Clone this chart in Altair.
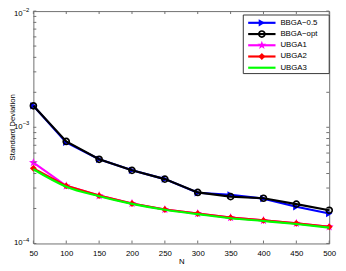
import math
import altair as alt
import pandas as pd

# ---------------- data ----------------
N = [50, 100, 150, 200, 250, 300, 350, 400, 450, 500]
bbga_05 = [1.53e-3, 7.40e-4, 5.30e-4, 4.26e-4, 3.58e-4, 2.73e-4, 2.62e-4, 2.43e-4, 2.07e-4, 1.81e-4]
bbga_opt = [1.53e-3, 7.55e-4, 5.30e-4, 4.26e-4, 3.58e-4, 2.75e-4, 2.53e-4, 2.45e-4, 2.18e-4, 1.93e-4]
ubga1 = [4.97e-4, 3.13e-4, 2.58e-4, 2.21e-4, 1.96e-4, 1.81e-4, 1.67e-4, 1.58e-4, 1.49e-4, 1.39e-4]
ubga2 = [4.43e-4, 3.13e-4, 2.58e-4, 2.21e-4, 1.96e-4, 1.81e-4, 1.67e-4, 1.58e-4, 1.49e-4, 1.39e-4]
ubga3 = [4.35e-4, 3.08e-4, 2.55e-4, 2.19e-4, 1.95e-4, 1.79e-4, 1.65e-4, 1.56e-4, 1.47e-4, 1.37e-4]

series_names = ["BBGA\u22120.5", "BBGA\u2212opt", "UBGA1", "UBGA2", "UBGA3"]
series_values = [bbga_05, bbga_opt, ubga1, ubga2, ubga3]
series_colors = ["#0000ff", "#000000", "#ff00ff", "#ff0000", "#00ff00"]

x_tick_values = [50, 100, 150, 200, 250, 300, 350, 400, 450, 500]
y_major = [1e-4, 1e-3, 1e-2]
y_major_exp = ["\u22124", "\u22123", "\u22122"]
y_minor = [2e-4, 3e-4, 4e-4, 5e-4, 6e-4, 7e-4, 8e-4, 9e-4,
           2e-3, 3e-3, 4e-3, 5e-3, 6e-3, 7e-3, 8e-3, 9e-3]

x_title = "N"
y_title = "Standard Deviation"

# ---------------- layout / style ----------------
W, H = 303, 238
FONT = "Liberation Sans"
FRAME = "#6e6e6e"

pts = []
for i in range(10):
    r = 1.0 if i % 2 == 0 else 0.4
    a = -math.pi / 2 + i * math.pi / 5
    pts.append(f"{r*math.cos(a):.3f},{r*math.sin(a):.3f}")
STAR = "M" + " L".join(pts) + " Z"

xscale = alt.Scale(domain=[50, 500], nice=False, zero=False)
yscale = alt.Scale(type="log", domain=[1e-4, 1e-2], nice=False)
xaxis = alt.Axis(values=x_tick_values, ticks=False, domain=False, grid=False,
                 labelFlush=False, labelFont=FONT, labelFontSize=8, labelColor="#000",
                 labelPadding=6, title=x_title, titleFont=FONT, titleFontSize=8,
                 titleFontWeight="normal", titleColor="#000", titlePadding=1)


def X(field):
    return alt.X(field, type="quantitative", scale=xscale, axis=xaxis)


def Y(field):
    return alt.Y(field, type="quantitative", scale=yscale, axis=None)


layers = []

marker_specs = [
    dict(shape="triangle-right", filled=True, size=55),
    dict(shape="circle", filled=False, size=38, strokeWidth=1.7),
    dict(shape=STAR, filled=True, size=90),
    dict(shape="diamond", filled=True, size=50),
    None,
]

for name, vals, col, mk in zip(series_names, series_values, series_colors, marker_specs):
    df = pd.DataFrame({"N": N, "v": vals, "s": name})
    if mk is None:
        layers.append(alt.Chart(df).mark_line(color=col, strokeWidth=2.2, interpolate="monotone")
                      .encode(x=X("N"), y=Y("v")))
    else:
        layers.append(alt.Chart(df).mark_line(color=col, strokeWidth=2.2)
                      .encode(x=X("N"), y=Y("v")))
        layers.append(alt.Chart(df).mark_point(color=col, opacity=1, **mk)
                      .encode(x=X("N"), y=Y("v")))

# ticks (inward, mirrored)
dfx = pd.DataFrame({"N": x_tick_values})
layers.append(alt.Chart(dfx).mark_rule(color=FRAME, strokeWidth=1)
              .encode(x=X("N"), y=alt.value(H), y2=alt.value(H - 3)))
layers.append(alt.Chart(dfx).mark_rule(color=FRAME, strokeWidth=1)
              .encode(x=X("N"), y=alt.value(0), y2=alt.value(3)))
dfy = pd.DataFrame({"v": y_major + y_minor})
layers.append(alt.Chart(dfy).mark_rule(color=FRAME, strokeWidth=1)
              .encode(y=Y("v"), x=alt.value(0), x2=alt.value(3)))
layers.append(alt.Chart(dfy).mark_rule(color=FRAME, strokeWidth=1)
              .encode(y=Y("v"), x=alt.value(W), x2=alt.value(W - 3)))

# y labels 10^k
dfl = pd.DataFrame({"v": y_major, "base": ["10"] * 3, "exp": y_major_exp})
for sel, dy in (("datum.v < 0.005", 0), ("datum.v > 0.005", 3)):
    layers.append(alt.Chart(dfl).transform_filter(sel)
                  .mark_text(align="right", baseline="middle", font=FONT, fontSize=8, dy=dy, color="#000")
                  .encode(y=Y("v"), x=alt.value(-11), text="base:N"))
    layers.append(alt.Chart(dfl).transform_filter(sel)
                  .mark_text(align="left", baseline="middle", font=FONT, fontSize=6, dy=dy - 4, color="#000")
                  .encode(y=Y("v"), x=alt.value(-11), text="exp:N"))

# y title
layers.append(alt.Chart(pd.DataFrame({"t": [y_title]}))
              .mark_text(angle=270, align="center", baseline="middle", font=FONT, fontSize=8, color="#000")
              .encode(x=alt.value(-21), y=alt.value(H / 2), text="t:N"))

# legend
layers.append(alt.Chart(pd.DataFrame({"a": [0]}))
              .mark_rect(fill="white", stroke="#333333", strokeWidth=1)
              .encode(x=alt.value(215), x2=alt.value(W), y=alt.value(4), y2=alt.value(64)))
row_y = [12, 23.5, 35, 46.5, 58]
for name, col, mk, ry in zip(series_names, series_colors, marker_specs, row_y):
    d = pd.DataFrame({"name": [name]})
    layers.append(alt.Chart(d).mark_rule(color=col, strokeWidth=2.2)
                  .encode(x=alt.value(220), x2=alt.value(248), y=alt.value(ry)))
    if mk is not None:
        layers.append(alt.Chart(d).mark_point(color=col, opacity=1, **mk)
                      .encode(x=alt.value(234), y=alt.value(ry)))
    layers.append(alt.Chart(d).mark_text(align="left", baseline="middle", font=FONT, fontSize=8, color="#000")
                  .encode(x=alt.value(253), y=alt.value(ry), text="name:N"))

chart = (alt.layer(*layers)
         .properties(width=W, height=H,
                     autosize=alt.AutoSizeParams(type="none"),
                     padding={"left": 26, "top": 0, "right": 9, "bottom": 24})
         .configure_view(stroke=FRAME, strokeWidth=1))

chart.save("out.html", embed_options={"renderer": "svg", "actions": False})
